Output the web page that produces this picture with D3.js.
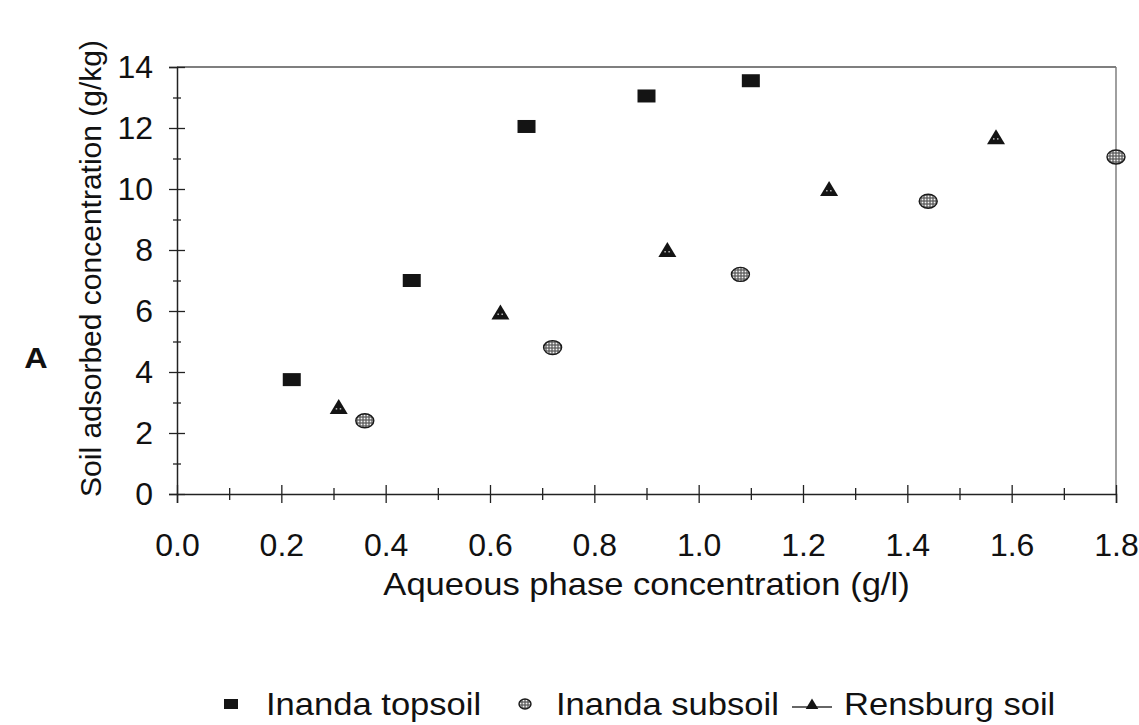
<!DOCTYPE html>
<html>
<head>
<meta charset="utf-8">
<script src="https://cdn.jsdelivr.net/npm/d3@7/dist/d3.min.js"></script>
<style>
  html, body { margin: 0; padding: 0; background: #fff; }
  svg { display: block; }
  text { font-family: "Liberation Sans", Arial, sans-serif; fill: #111; }
</style>
</head>
<body>
<svg id="chart" width="1139" height="725"></svg>
<script>
// ---- data ----
const topsoilX = [0.22, 0.45, 0.67, 0.90, 1.10];
const topsoilY = [3.75, 7.0, 12.05, 13.05, 13.55];
const subsoilX = [0.36, 0.72, 1.08, 1.44, 1.80];
const subsoilY = [2.4, 4.8, 7.2, 9.6, 11.05];
const rensburgX = [0.31, 0.62, 0.94, 1.25, 1.57];
const rensburgY = [2.85, 5.95, 8.0, 10.0, 11.7];
const xTicks = [0.0, 0.2, 0.4, 0.6, 0.8, 1.0, 1.2, 1.4, 1.6, 1.8];
const xMinorTicks = [0.1, 0.3, 0.5, 0.7, 0.9, 1.1, 1.3, 1.5, 1.7];
const yTicks = [0, 2, 4, 6, 8, 10, 12, 14];
const yMinorTicks = [1, 3, 5, 7, 9, 11, 13];
const seriesNames = ["Inanda topsoil", "Inanda subsoil", "Rensburg soil"];
const xTitle = "Aqueous phase concentration (g/l)";
const yTitle = "Soil adsorbed concentration (g/kg)";
const panelLabel = "A";

const FS = 32;      // font size
const SX = 1.08;    // horizontal stretch of the scanned text
const SXT = 1.0;    // stretch for tick labels

const svg = d3.select("#chart");
const x = d3.scaleLinear().domain([0, 1.8]).range([177, 1116]);
const y = d3.scaleLinear().domain([0, 14]).range([494, 67]);

// pattern for subsoil
const defs = svg.append("defs");
const pat = defs.append("pattern").attr("id", "hatch").attr("patternUnits", "userSpaceOnUse")
  .attr("width", 3).attr("height", 3);
pat.append("rect").attr("width", 3).attr("height", 3).attr("fill", "#555");
pat.append("rect").attr("x", 0.6).attr("y", 0.6).attr("width", 1.8).attr("height", 1.8).attr("fill", "#f2f2f2");

// frame: top and right
svg.append("line").attr("x1", x(0)).attr("x2", x(1.8)).attr("y1", y(14)).attr("y2", y(14))
  .attr("stroke", "#555").attr("stroke-width", 1.6);
svg.append("line").attr("x1", x(1.8)).attr("x2", x(1.8)).attr("y1", y(14)).attr("y2", y(0))
  .attr("stroke", "#777").attr("stroke-width", 1.4);

// x axis
const fmtX = d3.format(".1f");
const gx = svg.append("g").attr("transform", `translate(0,${y(0)})`)
  .call(d3.axisBottom(x).tickValues(xTicks).tickSize(9).tickPadding(30).tickFormat(fmtX));
gx.select(".domain").attr("stroke", "#222").attr("stroke-width", 1.5);
gx.selectAll(".tick line").attr("y1", -9).attr("stroke", "#222").attr("stroke-width", 1.3);
gx.selectAll(".tick text").attr("font-size", FS).attr("fill", "#111")
  .attr("font-family", '"Liberation Sans", Arial, sans-serif')
  .attr("transform", `scale(${SXT},1)`);
const gxm = svg.append("g").attr("transform", `translate(0,${y(0)})`)
  .call(d3.axisBottom(x).tickValues(xMinorTicks).tickSize(6).tickFormat(""));
gxm.select(".domain").remove();
gxm.selectAll(".tick line").attr("y1", -6).attr("stroke", "#222").attr("stroke-width", 1.3);

// y axis
const gy = svg.append("g").attr("transform", `translate(${x(0)},0)`)
  .call(d3.axisLeft(y).tickValues(yTicks).tickSize(8).tickPadding(16));
gy.select(".domain").attr("stroke", "#222").attr("stroke-width", 1.5);
gy.selectAll(".tick line").attr("x1", 8).attr("stroke", "#222").attr("stroke-width", 1.3);
gy.selectAll(".tick text").attr("font-size", FS).attr("fill", "#111")
  .attr("font-family", '"Liberation Sans", Arial, sans-serif');
const gym = svg.append("g").attr("transform", `translate(${x(0)},0)`)
  .call(d3.axisLeft(y).tickValues(yMinorTicks).tickSize(4).tickFormat(""));
gym.select(".domain").remove();
gym.selectAll(".tick line").attr("x1", 4).attr("stroke", "#222").attr("stroke-width", 1.3);

// titles
svg.append("text").attr("transform", `translate(${(x(0) + x(1.8)) / 2},595) scale(${SX},1)`)
  .attr("text-anchor", "middle").attr("font-size", FS).text(xTitle);
svg.append("text").attr("transform", `translate(101,${(y(0) + y(14)) / 2 - 12}) rotate(-90)`)
  .attr("text-anchor", "middle").attr("font-size", 30).text(yTitle);
svg.append("text").attr("transform", `translate(36,368) scale(${SX},1)`).attr("text-anchor", "middle")
  .attr("font-size", 30).attr("font-weight", "bold").text(panelLabel);

// marker helpers
function drawSquare(g, cx, cy) {
  g.append("rect").attr("x", cx - 9).attr("y", cy - 6.5).attr("width", 18).attr("height", 13)
    .attr("fill", "#141414");
}
function drawCircle(g, cx, cy, rx, ry) {
  g.append("ellipse").attr("cx", cx).attr("cy", cy).attr("rx", rx).attr("ry", ry)
    .attr("fill", "url(#hatch)").attr("stroke", "#1a1a1a").attr("stroke-width", 1.4);
}
function drawTriangle(g, cx, cy, s) {
  g.append("path").attr("d", `M${cx},${cy - 8 * s}L${cx + 9 * s},${cy + 7 * s}L${cx - 9 * s},${cy + 7 * s}Z`)
    .attr("fill", "#141414");
  if (s === 1) {
    g.append("rect").attr("x", cx - 3).attr("y", cy + 1).attr("width", 1.5).attr("height", 1.5).attr("fill", "#bbb");
    g.append("rect").attr("x", cx + 1).attr("y", cy + 1).attr("width", 1.5).attr("height", 1.5).attr("fill", "#bbb");
  }
}

const marks = svg.append("g");
topsoilX.forEach((v, i) => drawSquare(marks, x(v), y(topsoilY[i])));
rensburgX.forEach((v, i) => drawTriangle(marks, x(v), y(rensburgY[i]), 1));
subsoilX.forEach((v, i) => drawCircle(marks, x(v), y(subsoilY[i]), 9, 7));

// legend
const lg = svg.append("g");
const ly = 704;
lg.append("rect").attr("x", 224).attr("y", ly - 5).attr("width", 14).attr("height", 10).attr("fill", "#141414");
lg.append("text").attr("transform", `translate(266,${ly + 11}) scale(${SX},1)`).attr("font-size", FS).text(seriesNames[0]);
drawCircle(lg, 525, ly, 6, 5);
lg.append("text").attr("transform", `translate(556,${ly + 11}) scale(${SX},1)`).attr("font-size", FS).text(seriesNames[1]);
lg.append("line").attr("x1", 792).attr("x2", 832).attr("y1", ly + 3).attr("y2", ly + 3)
  .attr("stroke", "#333").attr("stroke-width", 1.3);
drawTriangle(lg, 812, ly, 0.7);
lg.append("text").attr("transform", `translate(844,${ly + 11}) scale(${SX},1)`).attr("font-size", FS).text(seriesNames[2]);
</script>
</body>
</html>
